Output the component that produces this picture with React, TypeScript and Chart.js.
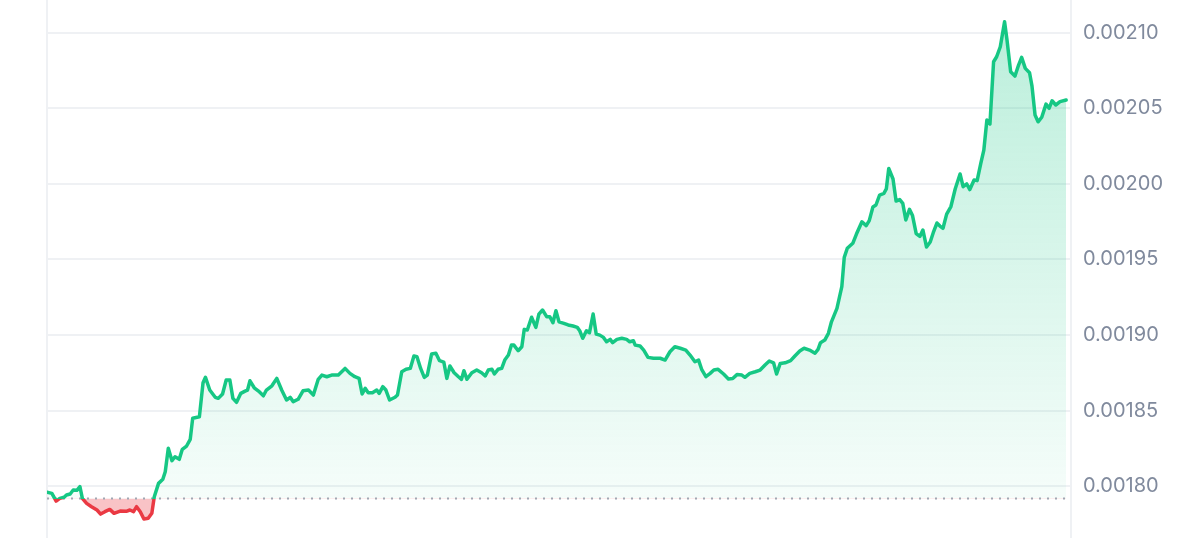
import React, { useEffect, useRef } from "react";
import { Chart, registerables } from "chart.js";

Chart.register(...registerables);

// Hours since start of the 7-day window
const TIMES: number[] = [
  0.0, 0.8, 1.5, 2.1, 2.8, 3.2, 3.8, 4.3, 4.9, 5.4,
  5.8, 6.5, 7.3, 8.2, 8.8, 9.5, 10.3, 11.0, 12.0, 13.0,
  13.6, 14.2, 14.7, 15.3, 15.9, 16.6, 17.2, 17.6, 18.3, 19.0,
  19.4, 19.9, 20.5, 21.0, 21.7, 22.2, 22.9, 23.5, 23.9, 25.0,
  25.6, 26.0, 26.7, 27.6, 28.1, 28.8, 29.4, 30.0, 30.5, 31.1,
  31.8, 32.5, 32.9, 33.3, 34.0, 34.7, 35.5, 36.0, 36.9, 37.7,
  38.5, 39.3, 39.9, 40.4, 41.2, 42.0, 42.9, 43.7, 44.5, 45.1,
  45.9, 46.7, 47.8, 48.9, 49.7, 50.5, 51.2, 51.7, 52.2, 52.7,
  53.4, 54.1, 54.5, 55.1, 55.6, 56.2, 57.1, 57.5, 58.2, 58.9,
  59.6, 60.2, 60.7, 61.3, 61.9, 62.4, 63.1, 63.8, 64.4, 65.1,
  65.6, 66.1, 66.8, 67.5, 68.0, 68.4, 68.9, 69.7, 70.5, 71.3,
  71.9, 72.4, 73.0, 73.4, 74.0, 74.6, 75.1, 75.7, 76.2, 76.6,
  77.3, 77.9, 78.3, 78.8, 79.5, 80.2, 80.7, 81.3, 82.0, 82.5,
  83.0, 83.5, 84.0, 84.8, 85.5, 86.3, 87.0, 87.4, 87.9, 88.5,
  89.0, 89.6, 90.1, 90.7, 91.3, 91.8, 92.4, 92.8, 93.5, 94.3,
  95.1, 95.6, 96.2, 96.5, 97.3, 97.9, 98.6, 99.5, 100.6, 101.4,
  102.2, 103.0, 103.9, 104.8, 105.5, 106.3, 106.9, 107.4, 108.1, 108.8,
  109.4, 110.1, 111.0, 111.8, 112.5, 113.2, 114.0, 114.5, 115.3, 116.2,
  117.0, 117.8, 118.5, 119.2, 119.7, 120.3, 121.1, 122.0, 122.7, 123.5,
  124.2, 125.1, 126.0, 126.5, 126.9, 127.6, 128.2, 128.7, 129.6, 130.4,
  130.8, 131.3, 132.2, 132.8, 133.7, 134.4, 134.9, 135.5, 136.0, 136.6,
  137.3, 137.7, 138.1, 138.8, 139.3, 139.9, 140.4, 140.9, 141.5, 142.0,
  142.6, 143.2, 143.7, 144.3, 144.9, 145.4, 146.0, 146.5, 147.0, 147.6,
  148.3, 149.0, 149.8, 150.3, 150.9, 151.4, 152.1, 152.6, 153.2, 153.7,
  154.2, 154.7, 155.3, 155.8, 156.4, 157.1, 157.5, 158.1, 158.8, 159.4,
  159.9, 160.5, 161.2, 161.6, 162.1, 162.6, 163.2, 163.9, 164.4, 164.9,
  165.5, 166.2, 167.2,
];

const PRICES: number[] = [
  0.0017961, 0.0017954, 0.0017903, 0.0017921, 0.0017928, 0.0017943, 0.0017950, 0.0017976, 0.0017974, 0.0017998,
  0.0017921, 0.0017888, 0.0017866, 0.0017844, 0.0017817, 0.0017833, 0.0017848, 0.0017822, 0.0017837, 0.0017835,
  0.0017844, 0.0017833, 0.0017866, 0.0017833, 0.0017784, 0.0017789, 0.0017822, 0.0017932, 0.0018020, 0.0018047,
  0.0018097, 0.0018252, 0.0018170, 0.0018196, 0.0018179, 0.0018245, 0.0018267, 0.0018311, 0.0018450, 0.0018460,
  0.0018685, 0.0018721, 0.0018637, 0.0018589, 0.0018582, 0.0018611, 0.0018703, 0.0018703, 0.0018582, 0.0018556,
  0.0018615, 0.0018630, 0.0018637, 0.0018698, 0.0018652, 0.0018630, 0.0018599, 0.0018637, 0.0018665, 0.0018714,
  0.0018637, 0.0018571, 0.0018589, 0.0018560, 0.0018576, 0.0018632, 0.0018637, 0.0018604, 0.0018708, 0.0018736,
  0.0018725, 0.0018736, 0.0018736, 0.0018780, 0.0018747, 0.0018725, 0.0018714, 0.0018611, 0.0018648, 0.0018619,
  0.0018619, 0.0018637, 0.0018615, 0.0018659, 0.0018637, 0.0018571, 0.0018589, 0.0018604, 0.0018758, 0.0018774,
  0.0018780, 0.0018862, 0.0018857, 0.0018780, 0.0018721, 0.0018736, 0.0018875, 0.0018880, 0.0018831, 0.0018822,
  0.0018714, 0.0018796, 0.0018751, 0.0018725, 0.0018708, 0.0018765, 0.0018708, 0.0018751, 0.0018769, 0.0018751,
  0.0018730, 0.0018769, 0.0018774, 0.0018743, 0.0018774, 0.0018780, 0.0018835, 0.0018868, 0.0018934, 0.0018934,
  0.0018897, 0.0018923, 0.0019038, 0.0019034, 0.0019118, 0.0019051, 0.0019139, 0.0019166, 0.0019121, 0.0019121,
  0.0019082, 0.0019161, 0.0019088, 0.0019078, 0.0019067, 0.0019060, 0.0019051, 0.0019029, 0.0018979, 0.0019029,
  0.0019016, 0.0019139, 0.0019007, 0.0019000, 0.0018985, 0.0018956, 0.0018972, 0.0018950, 0.0018972, 0.0018979,
  0.0018972, 0.0018956, 0.0018963, 0.0018934, 0.0018928, 0.0018901, 0.0018853, 0.0018847, 0.0018847, 0.0018835,
  0.0018890, 0.0018923, 0.0018913, 0.0018901, 0.0018868, 0.0018824, 0.0018835, 0.0018774, 0.0018725, 0.0018747,
  0.0018769, 0.0018774, 0.0018743, 0.0018710, 0.0018713, 0.0018739, 0.0018736, 0.0018721, 0.0018747, 0.0018758,
  0.0018769, 0.0018802, 0.0018829, 0.0018817, 0.0018743, 0.0018813, 0.0018817, 0.0018831, 0.0018862, 0.0018895,
  0.0018913, 0.0018901, 0.0018880, 0.0018906, 0.0018950, 0.0018967, 0.0019012, 0.0019088, 0.0019177, 0.0019320,
  0.0019514, 0.0019574, 0.0019607, 0.0019668, 0.0019749, 0.0019724, 0.0019757, 0.0019847, 0.0019860, 0.0019926,
  0.0019937, 0.0019966, 0.0020102, 0.0020032, 0.0019886, 0.0019896, 0.0019871, 0.0019761, 0.0019831, 0.0019790,
  0.0019671, 0.0019652, 0.0019695, 0.0019582, 0.0019615, 0.0019677, 0.0019741, 0.0019721, 0.0019706, 0.0019800,
  0.0019850, 0.0019966, 0.0020065, 0.0019981, 0.0019999, 0.0019962, 0.0020025, 0.0020021, 0.0020135, 0.0020223,
  0.0020422, 0.0020395, 0.0020807, 0.0020840, 0.0020906, 0.0021071, 0.0020950, 0.0020741, 0.0020712, 0.0020785,
  0.0020836, 0.0020763, 0.0020734, 0.0020646, 0.0020455, 0.0020410, 0.0020440, 0.0020527, 0.0020499, 0.0020549,
  0.0020521, 0.0020543, 0.0020554,
];

const OPEN_PRICE = 0.001792;
const Y_MIN = 0.0017659;
const Y_MAX = 0.0021215;
const Y_STEP = 0.00005;
const X_MIN = 0;
const X_MAX = 168;

const GREEN = "#16c784";
const RED = "#ea3943";
const GRID = "#eff1f4";

export default function App() {
  const ref = useRef<HTMLCanvasElement>(null);

  useEffect(() => {
    const canvas = ref.current!;
    const ctx = canvas.getContext("2d")!;
    const fillGrad = ctx.createLinearGradient(0, 0, 0, 538);
    fillGrad.addColorStop(0, "rgba(22,199,132,0.30)");
    fillGrad.addColorStop(1, "rgba(22,199,132,0.02)");

    const edgePlugin = {
      id: "leftEdge",
      beforeDatasetsDraw(chart: any) {
        const { ctx: c, chartArea: a } = chart;
        c.save();
        c.strokeStyle = GRID;
        c.lineWidth = 2;
        c.beginPath();
        c.moveTo(a.left, a.top);
        c.lineTo(a.left, a.bottom);
        c.stroke();
        c.restore();
      },
    };

    const lineColor = (context: any) => {
      const chart = context.chart;
      const area = chart.chartArea;
      if (!area) return GREEN;
      const yPix = chart.scales.y.getPixelForValue(OPEN_PRICE);
      const stop = Math.min(1, Math.max(0, (yPix - area.top) / (area.bottom - area.top)));
      const g = chart.ctx.createLinearGradient(0, area.top, 0, area.bottom);
      g.addColorStop(0, GREEN);
      g.addColorStop(stop, GREEN);
      g.addColorStop(stop, RED);
      g.addColorStop(1, RED);
      return g;
    };

    const chart = new Chart(canvas, {
      type: "line",
      data: {
        datasets: [
          {
            data: TIMES.map((t, i) => ({ x: t, y: PRICES[i] })),
            borderColor: lineColor,
            borderWidth: 3.5,
            pointRadius: 0,
            tension: 0,
            borderJoinStyle: "round",
            borderCapStyle: "round",
            fill: {
              target: { value: OPEN_PRICE },
              above: fillGrad,
              below: "rgba(234,57,67,0.3)",
            },
            order: 0,
          },
          {
            data: [
              { x: TIMES[0], y: OPEN_PRICE },
              { x: TIMES[TIMES.length - 1], y: OPEN_PRICE },
            ],
            borderColor: "#a1a7b3",
            borderWidth: 2,
            borderDash: [2, 6],
            pointRadius: 0,
            fill: false,
            order: 1,
          },
        ],
      },
      options: {
        responsive: false,
        animation: false,
        layout: { padding: { left: 47, right: 0, top: 0, bottom: 0 } },
        plugins: {
          legend: { display: false },
          tooltip: { enabled: false },
          filler: { drawTime: "beforeDatasetsDraw" },
        },
        scales: {
          x: { type: "linear", min: X_MIN, max: X_MAX, display: false },
          y: {
            position: "right",
            min: Y_MIN,
            max: Y_MAX,
            afterFit: (s: any) => {
              s.width = 129;
              s.paddingTop = 0;
              s.paddingBottom = 0;
            },
            grid: { color: GRID, lineWidth: 2, drawTicks: false },
            border: { display: true, color: GRID, width: 2 },
            ticks: {
              stepSize: Y_STEP,
              includeBounds: false,
              padding: 12,
              color: "#808a9d",
              font: { family: "Inter", size: 20 },
              callback: (v: any) => Number(v).toFixed(5),
            },
          },
        },
      } as any,
      plugins: [edgePlugin],
    });
    return () => chart.destroy();
  }, []);

  return (
    <div style={{ position: "absolute", left: 0, top: 0, width: 1200, height: 538 }}>
      <canvas ref={ref} width={1200} height={538} />
    </div>
  );
}
